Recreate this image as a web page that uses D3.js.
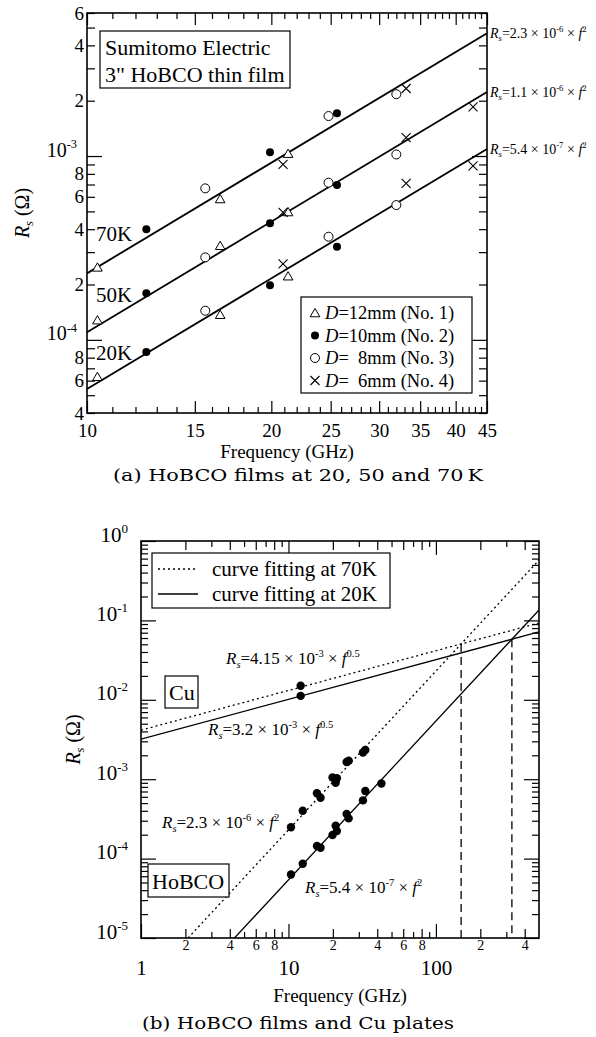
<!DOCTYPE html>
<html>
<head>
<meta charset="utf-8">
<script src="https://cdn.jsdelivr.net/npm/d3@7"></script>
<style>
  body { margin: 0; background: #fff; }
  svg { display: block; }
  text { fill: #000; white-space: pre; font-family: 'Liberation Serif', 'Times New Roman', Times, serif; }
  text.caption { font-family: 'DejaVu Serif', serif; }
</style>
</head>
<body>
<div id="chart"></div>
<script>
// ---- panel (a): surface resistance of the HoBCO film, per sample, at 70 / 50 / 20 K
const sampleText = ["=12mm (No. 1)", "=10mm (No. 2)", "=  8mm (No. 3)", "=  6mm (No. 4)"];
const sampleSymbol = ["triangle", "dot", "circle", "cross"];
const freqNo1 = [10.4, 16.5, 21.3];
const freqNo2 = [12.5, 19.9, 25.6];
const freqNo3 = [15.6, 24.8, 32.0];
const freqNo4 = [20.9, 33.2, 42.7];
const rs70 = [[2.48e-4, 5.84e-4, 1.03e-3], [4.0e-4, 1.05e-3, 1.71e-3], [6.67e-4, 1.65e-3, 2.17e-3], [9.0e-4, 2.33e-3, null]];
const rs50 = [[1.28e-4, 3.25e-4, 4.96e-4], [1.79e-4, 4.31e-4, 6.96e-4], [2.81e-4, 7.16e-4, 1.02e-3], [4.94e-4, 1.26e-3, 1.85e-3]];
const rs20 = [[6.3e-5, 1.37e-4, 2.22e-4], [8.6e-5, 1.98e-4, 3.21e-4], [1.44e-4, 3.64e-4, 5.41e-4], [2.59e-4, 7.1e-4, 8.83e-4]];
const tempLabels = ["70K", "50K", "20K"];
const fitCoef = [2.3e-6, 1.1e-6, 5.4e-7];
const fitCoefText = ["2.3", "1.1", "5.4"];
const fitExpText = ["-6", "-6", "-7"];

// ---- panel (b): HoBCO vs Cu
const cuFreq = [12.1];
const cu70 = [0.0150];
const cu20 = [0.0112];
const cuCoef = [4.15e-3, 3.2e-3];     // 70K, 20K  (Rs = a * f^0.5)
const hoCoef = [2.3e-6, 5.4e-7];      // 70K, 20K  (Rs = a * f^2)

// ticks
const xaMajor = [10, 15, 20, 25, 30, 35, 40, 45];
const yaDecades = [1e-4, 1e-3];
const yaLabeled = [4e-5, 6e-5, 8e-5, 2e-4, 4e-4, 6e-4, 8e-4, 2e-3, 4e-3, 6e-3];
const yaMinor = [5e-5, 7e-5, 9e-5, 3e-4, 5e-4, 7e-4, 9e-4, 3e-3, 5e-3];
const xbDecades = [1, 10, 100];
const xbLabeled = [2, 4, 6, 8, 20, 40, 60, 80, 200, 400];
const xbMinor = [3, 5, 7, 9, 30, 50, 70, 90, 300];
const ybDecades = [1e-5, 1e-4, 1e-3, 1e-2, 1e-1, 1];

const SERIF = "'Liberation Serif','Times New Roman',Times,serif";

const svg = d3.select("#chart").append("svg")
  .attr("width", 596).attr("height", 1037)
  .style("background", "#fff");

// text with sub/superscripts
function rich(t, parts, size) {
  let shift = 0;
  parts.forEach(p => {
    const target = p.sup ? -size * 0.42 : p.sub ? size * 0.22 : 0;
    const ts = t.append("tspan").attr("dy", target - shift).text(p.t);
    shift = target;
    if (p.sup || p.sub) ts.attr("font-size", size * 0.62);
    if (p.it) ts.attr("font-style", "italic");
  });
  return t;
}
function rsParts(coef, exp, pow) {
  return [{t: "R", it: 1}, {t: "s", it: 1, sub: 1}, {t: "=" + coef + " × 10"}, {t: exp, sup: 1},
          {t: " × "}, {t: "f", it: 1}, {t: pow, sup: 1}];
}

// one set of inward ticks using d3 axes
function ticks(g, scale, orient, pos, vals, len, fmt, pad, size) {
  const mk = {bottom: d3.axisBottom, top: d3.axisTop, left: d3.axisLeft, right: d3.axisRight}[orient];
  const axis = mk(scale).tickValues(vals).tickSize(-len).tickPadding(pad || 0)
    .tickFormat(fmt || (() => ""));
  const tr = (orient === "bottom" || orient === "top") ? `translate(0,${pos})` : `translate(${pos},0)`;
  const a = g.append("g").attr("transform", tr).call(axis);
  a.select(".domain").remove();
  a.selectAll("line").attr("stroke", "#000").attr("stroke-width", 1.2);
  a.selectAll("text").attr("font-size", size || 12).attr("fill", "#000");
  return a;
}
function decadeLabels(a, size) {
  a.selectAll("text").each(function(d) {
    const t = d3.select(this).text("");
    rich(t, [{t: "10"}, {t: String(Math.round(Math.log10(d))), sup: 1}], size);
  });
}
const lead = v => String(Math.round(v / Math.pow(10, Math.floor(Math.log10(v) + 1e-9))));

function drawSymbol(g, type, cx, cy) {
  if (type === "triangle") {
    g.append("path").attr("d", d3.symbol(d3.symbolTriangle).size(40)())
      .attr("transform", `translate(${cx},${cy + 1})`)
      .attr("fill", "#fff").attr("stroke", "#000").attr("stroke-width", 1);
  } else if (type === "dot") {
    g.append("circle").attr("cx", cx).attr("cy", cy).attr("r", 4).attr("fill", "#000");
  } else if (type === "circle") {
    g.append("circle").attr("cx", cx).attr("cy", cy).attr("r", 4.5)
      .attr("fill", "#fff").attr("stroke", "#000").attr("stroke-width", 1);
  } else {
    g.append("path").attr("d", `M${cx - 4.5},${cy - 4.5}L${cx + 4.5},${cy + 4.5}M${cx - 4.5},${cy + 4.5}L${cx + 4.5},${cy - 4.5}`)
      .attr("stroke", "#000").attr("stroke-width", 1.1);
  }
}

// ================= panel (a) =================
{
  const L = 87, T = 13, W = 400, H = 400;
  const x = d3.scaleLog().domain([10, 45]).range([L, L + W]);
  const y = d3.scaleLog().domain([4e-5, 6e-3]).range([T + H, T]);
  const g = svg.append("g");
  const freqs = [freqNo1, freqNo2, freqNo3, freqNo4];
  const xaMinor = d3.range(11, 45).filter(v => v % 5 !== 0);

  // fit lines
  fitCoef.forEach((c, i) => {
    g.append("line")
      .attr("x1", x(10)).attr("y1", y(c * 100))
      .attr("x2", x(45)).attr("y2", y(c * 45 * 45))
      .attr("stroke", "#000").attr("stroke-width", 1.8);
    rich(g.append("text").attr("x", 490).attr("y", y(c * 45 * 45) + 5).attr("font-size", 14),
      rsParts(fitCoefText[i], fitExpText[i], "2"), 14);
  });

  // points
  [rs70, rs50, rs20].forEach(set => {
    set.forEach((vals, s) => {
      vals.forEach((v, k) => {
        if (v != null) drawSymbol(g, sampleSymbol[s], x(freqs[s][k]), y(v));
      });
    });
  });

  // axes
  ticks(g, x, "bottom", T + H, xaMajor, 12, d => d, 11, 19);
  ticks(g, x, "bottom", T + H, xaMinor, 6);
  ticks(g, x, "top", T, xaMajor, 12);
  ticks(g, x, "top", T, xaMinor, 6);
  decadeLabels(ticks(g, y, "left", L, yaDecades, 15, d => d, 10, 20), 20);
  ticks(g, y, "left", L, yaLabeled, 8, lead, 3, 19);
  ticks(g, y, "left", L, yaMinor, 8);
  ticks(g, y, "right", L + W, yaDecades, 15);
  ticks(g, y, "right", L + W, yaLabeled, 8);
  ticks(g, y, "right", L + W, yaMinor, 8);
  g.append("rect").attr("x", L).attr("y", T).attr("width", W).attr("height", H)
    .attr("fill", "none").attr("stroke", "#000").attr("stroke-width", 1.6);

  // temperature labels
  [241, 302, 360].forEach((yy, i) => {
    g.append("text").attr("x", 96).attr("y", yy).attr("font-size", 21).text(tempLabels[i]);
  });

  // title box
  g.append("rect").attr("x", 100).attr("y", 31).attr("width", 190).attr("height", 57)
    .attr("fill", "#fff").attr("stroke", "#000").attr("stroke-width", 1.2);
  g.append("text").attr("x", 105).attr("y", 55).attr("font-size", 22).text("Sumitomo Electric");
  g.append("text").attr("x", 105).attr("y", 82).attr("font-size", 22).text("3\" HoBCO thin film");

  // legend
  g.append("rect").attr("x", 301).attr("y", 297).attr("width", 171).attr("height", 96)
    .attr("fill", "#fff").attr("stroke", "#000").attr("stroke-width", 1.2);
  sampleText.forEach((s, i) => {
    const yy = 313 + i * 22.5;
    drawSymbol(g, sampleSymbol[i], 315, yy);
    rich(g.append("text").attr("x", 325).attr("y", yy + 6).attr("font-size", 18.5),
      [{t: "D", it: 1}, {t: s}], 18.5);
  });

  // axis titles and caption
  rich(g.append("text").attr("transform", `translate(29,${T + H / 2}) rotate(-90)`)
    .attr("text-anchor", "middle").attr("font-size", 20),
    [{t: "R", it: 1}, {t: "s", it: 1, sub: 1}, {t: " (Ω)"}], 20);
  g.append("text").attr("x", L + W / 2).attr("y", 458).attr("text-anchor", "middle")
    .attr("font-size", 19).text("Frequency (GHz)");
  g.append("text").attr("class", "caption").attr("x", 298).attr("y", 481).attr("text-anchor", "middle")
    .attr("font-size", 16)
    .attr("textLength", 370).attr("lengthAdjust", "spacingAndGlyphs")
    .text("(a) HoBCO films at 20, 50 and 70\u2009K");
}

// ================= panel (b) =================
{
  const L = 141, T = 541, W = 398, H = 397;
  const x = d3.scaleLog().domain([1, 500]).range([L, L + W]);
  const y = d3.scaleLog().domain([1e-5, 1]).range([T + H, T]);
  const g = svg.append("g");
  const ybMinor = [];
  ybDecades.slice(0, -1).forEach(d => { for (let k = 2; k <= 9; k++) ybMinor.push(d * k); });

  svg.append("clipPath").attr("id", "clipb").append("rect")
    .attr("x", L).attr("y", T).attr("width", W).attr("height", H);
  const pg = g.append("g").attr("clip-path", "url(#clipb)");

  const dash = ["2,3", null];
  // Cu fits: Rs = a f^0.5
  cuCoef.forEach((c, i) => {
    pg.append("line").attr("x1", x(1)).attr("y1", y(c)).attr("x2", x(500)).attr("y2", y(c * Math.sqrt(500)))
      .attr("stroke", "#000").attr("stroke-width", 1.3).attr("stroke-dasharray", dash[i]);
  });
  // HoBCO fits: Rs = a f^2
  hoCoef.forEach((c, i) => {
    const f0 = Math.sqrt(1e-5 / c);
    pg.append("line").attr("x1", x(f0)).attr("y1", y(1e-5)).attr("x2", x(500)).attr("y2", y(c * 500 * 500))
      .attr("stroke", "#000").attr("stroke-width", 1.3).attr("stroke-dasharray", dash[i]);
  });
  // crossover frequencies
  hoCoef.forEach((c, i) => {
    const fc = Math.pow(cuCoef[i] / c, 1 / 1.5);
    pg.append("line").attr("x1", x(fc)).attr("x2", x(fc))
      .attr("y1", y(c * fc * fc)).attr("y2", y(1e-5))
      .attr("stroke", "#000").attr("stroke-width", 1.3).attr("stroke-dasharray", "8,5");
  });

  // points
  const freqs = [freqNo1, freqNo2, freqNo3, freqNo4];
  [rs70, rs20].forEach(set => set.forEach((vals, s) => vals.forEach((v, k) => {
    if (v != null) pg.append("circle").attr("cx", x(freqs[s][k])).attr("cy", y(v)).attr("r", 4.2).attr("fill", "#000");
  })));
  [cu70, cu20].forEach(set => set.forEach((v, k) => {
    pg.append("circle").attr("cx", x(cuFreq[k])).attr("cy", y(v)).attr("r", 4.2).attr("fill", "#000");
  }));

  // axes
  ticks(g, x, "bottom", T + H, xbDecades, 14, d => d, 22, 21);
  ticks(g, x, "bottom", T + H, xbLabeled, 9, lead, 2, 14);
  ticks(g, x, "bottom", T + H, xbMinor, 6);
  ticks(g, x, "top", T, xbDecades, 14);
  ticks(g, x, "top", T, xbLabeled, 9);
  ticks(g, x, "top", T, xbMinor, 6);
  decadeLabels(ticks(g, y, "left", L, ybDecades, 15, d => d, 13, 21), 21);
  ticks(g, y, "left", L, ybMinor, 7);
  ticks(g, y, "right", L + W, ybDecades, 15);
  ticks(g, y, "right", L + W, ybMinor, 7);
  g.append("rect").attr("x", L).attr("y", T).attr("width", W).attr("height", H)
    .attr("fill", "none").attr("stroke", "#000").attr("stroke-width", 1.6);

  // legend
  g.append("rect").attr("x", 152).attr("y", 553).attr("width", 238).attr("height", 55)
    .attr("fill", "#fff").attr("stroke", "#000").attr("stroke-width", 1.2);
  ["curve fitting at 70K", "curve fitting at 20K"].forEach((s, i) => {
    const yy = 569 + i * 25;
    g.append("line").attr("x1", 158).attr("x2", 198).attr("y1", yy).attr("y2", yy)
      .attr("stroke", "#000").attr("stroke-width", 1.3).attr("stroke-dasharray", dash[i]);
    g.append("text").attr("x", 212).attr("y", yy + 7).attr("font-size", 21).text(s);
  });

  // fit labels
  rich(g.append("text").attr("x", 226).attr("y", 664).attr("font-size", 17), rsParts("4.15", "-3", "0.5"), 17);
  rich(g.append("text").attr("x", 208).attr("y", 735).attr("font-size", 17), rsParts("3.2", "-3", "0.5"), 17);
  rich(g.append("text").attr("x", 162).attr("y", 828).attr("font-size", 17), rsParts("2.3", "-6", "2"), 17);
  rich(g.append("text").attr("x", 305).attr("y", 893).attr("font-size", 17), rsParts("5.4", "-7", "2"), 17);

  // material boxes
  g.append("rect").attr("x", 165).attr("y", 676).attr("width", 33).attr("height", 32)
    .attr("fill", "#fff").attr("stroke", "#000").attr("stroke-width", 1.2);
  g.append("text").attr("x", 169).attr("y", 700).attr("font-size", 22).text("Cu");
  g.append("rect").attr("x", 148).attr("y", 864).attr("width", 81).attr("height", 33)
    .attr("fill", "#fff").attr("stroke", "#000").attr("stroke-width", 1.2);
  g.append("text").attr("x", 152).attr("y", 889).attr("font-size", 22).text("HoBCO");

  // axis titles and caption
  rich(g.append("text").attr("transform", `translate(80,${T + H / 2}) rotate(-90)`)
    .attr("text-anchor", "middle").attr("font-size", 20),
    [{t: "R", it: 1}, {t: "s", it: 1, sub: 1}, {t: " (Ω)"}], 20);
  g.append("text").attr("x", L + W / 2).attr("y", 1002).attr("text-anchor", "middle")
    .attr("font-size", 19).text("Frequency (GHz)");
  g.append("text").attr("class", "caption").attr("x", 298).attr("y", 1029).attr("text-anchor", "middle")
    .attr("font-size", 16)
    .attr("textLength", 312).attr("lengthAdjust", "spacingAndGlyphs")
    .text("(b) HoBCO films and Cu plates");
}
</script>
</body>
</html>
